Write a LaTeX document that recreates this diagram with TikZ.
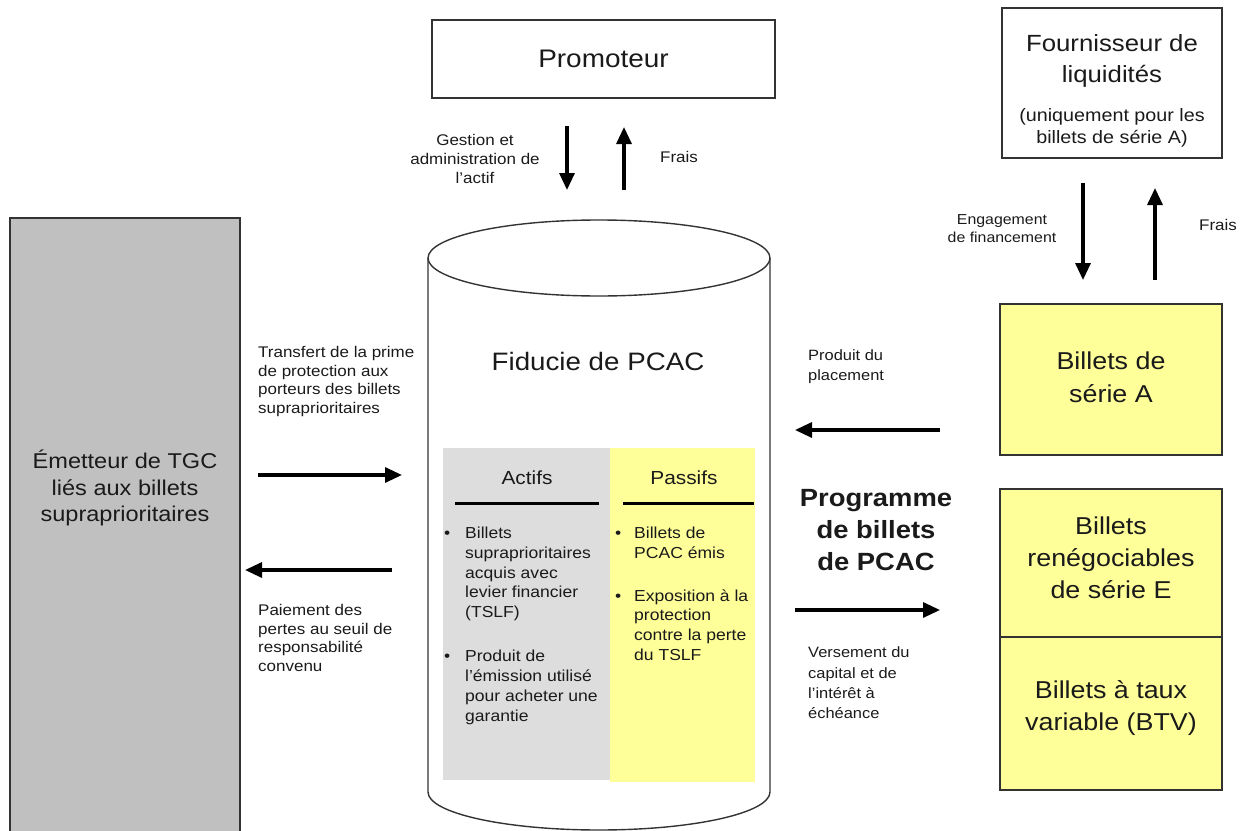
\documentclass[tikz,border=0pt]{standalone}
\usepackage{fontspec}
\setmainfont{Liberation Sans}[FakeStretch=1.1]
\usetikzlibrary{arrows.meta}
\definecolor{noteyel}{HTML}{FFFF99}
\definecolor{boxgray}{HTML}{C0C0C0}
\definecolor{panelgray}{HTML}{DDDDDD}
\definecolor{edgecol}{HTML}{333333}
\definecolor{txtcol}{HTML}{1A1A1A}
\newcommand\myfs[2]{\fontsize{#1}{#2}\selectfont}
\begin{document}
\begin{tikzpicture}[x=1bp,y=1bp,
  box/.style={draw=edgecol, line width=1.4bp, inner sep=0pt},
  flow/.style={line width=3.2bp, -{Triangle[length=17bp,width=15bp]}},
  lbl/.style={inner sep=0pt, align=left, text=txtcol, font={\myfs{15.5}{19}}},
  clbl/.style={inner sep=0pt, align=center, text=txtcol, font={\myfs{15.5}{19}}},
  big/.style={inner sep=0pt, align=center, text=txtcol, font={\myfs{24.5}{33}}},
  bulletlist/.style={inner sep=0pt, anchor=north west, text=txtcol, font={\myfs{16}{20}}}
]
\useasboundingbox (0,0) rectangle (1247,-831);

% ---------- Promoteur ----------
\node[box, minimum width=343bp, minimum height=78bp, font={\myfs{25.5}{30}}, text=txtcol] (prom) at (603.5,-59) {Promoteur};

% ---------- Fournisseur ----------
\node[box, minimum width=220bp, minimum height=150bp] (four) at (1112,-83) {};
\node[big, font={\myfs{23.5}{32}}] (fourt) at (1112,-61) {Fournisseur de\\liquidités};
\node[clbl, font={\myfs{18}{21.5}}] (fours) at (1112,-128) {(uniquement pour les\\billets de série A)};

% ---------- Emetteur ----------
\fill[boxgray] (10,-218) rectangle (240,-840);
\draw[edgecol, line width=1.4bp] (10,-840) -- (10,-218) -- (240,-218) -- (240,-840);
\node[big, font={\myfs{21.5}{26.5}}] (emet) at (125,-488) {Émetteur de TGC\\liés aux billets\\supraprioritaires};

% ---------- Cylinder ----------
\draw[edgecol, line width=1.4bp] (428,-258) -- (428,-792)
   arc[start angle=180, end angle=360, x radius=171, y radius=38] -- (770,-258);
\draw[edgecol, line width=1.4bp] (599,-258) ellipse [x radius=171, y radius=38];
\node[big, font={\myfs{25.3}{30}}] (fid) at (598,-361) {Fiducie de PCAC};

\fill[panelgray] (443,-448) rectangle (610,-780);
\fill[noteyel] (610,-448) rectangle (755,-782);
\node[inner sep=0pt, text=txtcol, font={\myfs{19}{22}}] (actifs) at (527,-478) {Actifs};
\node[inner sep=0pt, text=txtcol, font={\myfs{19}{22}}] (passifs) at (684,-478) {Passifs};
\coordinate (ua1) at (455,-503); \coordinate (ua2) at (599,-503);
\coordinate (up1) at (623,-503); \coordinate (up2) at (754,-503);
\draw[line width=3bp] (ua1) -- (ua2);
\draw[line width=3bp] (up1) -- (up2);

\node[bulletlist] (lista) at (444,-524) {\begin{tabular}{@{}l@{}l@{}}
\makebox[21bp][l]{\textbullet} & Billets\\
 & supraprioritaires\\
 & acquis avec\\
 & levier financier\\
 & (TSLF)\\[24bp]
\makebox[21bp][l]{\textbullet} & Produit de\\
 & l’émission utilisé\\
 & pour acheter une\\
 & garantie
\end{tabular}};
\node[bulletlist] (listp) at (615,-524) {\begin{tabular}{@{}l@{}l@{}}
\makebox[19bp][l]{\textbullet} & Billets de\\
 & PCAC émis\\[23bp]
\makebox[19bp][l]{\textbullet} & Exposition à la\\
 & protection\\
 & contre la perte\\
 & du TSLF
\end{tabular}};

% ---------- Right boxes ----------
\node[box, fill=noteyel, minimum width=222bp, minimum height=151bp] (serA) at (1111,-379.5) {};
\node[big] (serAt) at (1111,-377.5) {Billets de\\série A};
\node[box, fill=noteyel, minimum width=222bp, minimum height=148bp] (serE) at (1111,-563) {};
\node[box, fill=noteyel, minimum width=222bp, minimum height=153bp] (btv) at (1111,-713.5) {};
\node[big, font={\myfs{24.5}{32}}] (serEt) at (1111,-558) {Billets\\renégociables\\de série E};
\node[big, font={\myfs{24.5}{32}}] (btvt) at (1111,-708) {Billets à taux\\variable (BTV)};

% ---------- Arrows: Promoteur <-> Fiducie ----------
\coordinate (pd1) at (567,-126); \coordinate (pd2) at (567,-190);
\coordinate (pu1) at (624,-190); \coordinate (pu2) at (624,-127);
\draw[flow] (pd1) -- (pd2);
\draw[flow] (pu1) -- (pu2);
\node[clbl] (gest) at (475,-159) {Gestion et\\administration de\\l’actif};
\node[clbl] (frais1) at (679,-157) {Frais};

% ---------- Arrows: Fournisseur <-> Serie A ----------
\coordinate (fd1) at (1083,-183); \coordinate (fd2) at (1083,-280);
\coordinate (fu1) at (1155,-280); \coordinate (fu2) at (1155,-188);
\draw[flow] (fd1) -- (fd2);
\draw[flow] (fu1) -- (fu2);
\node[clbl, font={\myfs{14.5}{18}}] (engag) at (1002,-229) {Engagement\\de financement};
\node[clbl] (frais2) at (1218,-225) {Frais};

% ---------- Arrows: Emetteur <-> Fiducie ----------
\coordinate (er1) at (258,-475); \coordinate (er2) at (402,-475);
\coordinate (el1) at (392,-570); \coordinate (el2) at (245,-570);
\draw[flow] (er1) -- (er2);
\draw[flow] (el1) -- (el2);
\node[lbl, anchor=west] (transf) at (258,-381.5) {Transfert de la prime\\de protection aux\\porteurs des billets\\supraprioritaires};
\node[lbl, anchor=west] (paiem) at (258,-638) {Paiement des\\pertes au seuil de\\responsabilité\\convenu};

% ---------- Arrows: Fiducie <-> Programme ----------
\coordinate (rl1) at (940,-430); \coordinate (rl2) at (795,-430);
\coordinate (rr1) at (795,-610); \coordinate (rr2) at (940,-610);
\draw[flow] (rl1) -- (rl2);
\draw[flow] (rr1) -- (rr2);
\node[lbl, anchor=west, font={\myfs{15}{20}}] (prodpl) at (808,-366.5) {Produit du\\placement};
\node[clbl, font={\myfs{25}{32.5}\bfseries}] (prog) at (876,-530) {Programme\\de billets\\de PCAC};
\node[lbl, anchor=west, font={\myfs{15}{20.5}}] (versm) at (808,-683) {Versement du\\capital et de\\l’intérêt à\\échéance};
\end{tikzpicture}
\end{document}
